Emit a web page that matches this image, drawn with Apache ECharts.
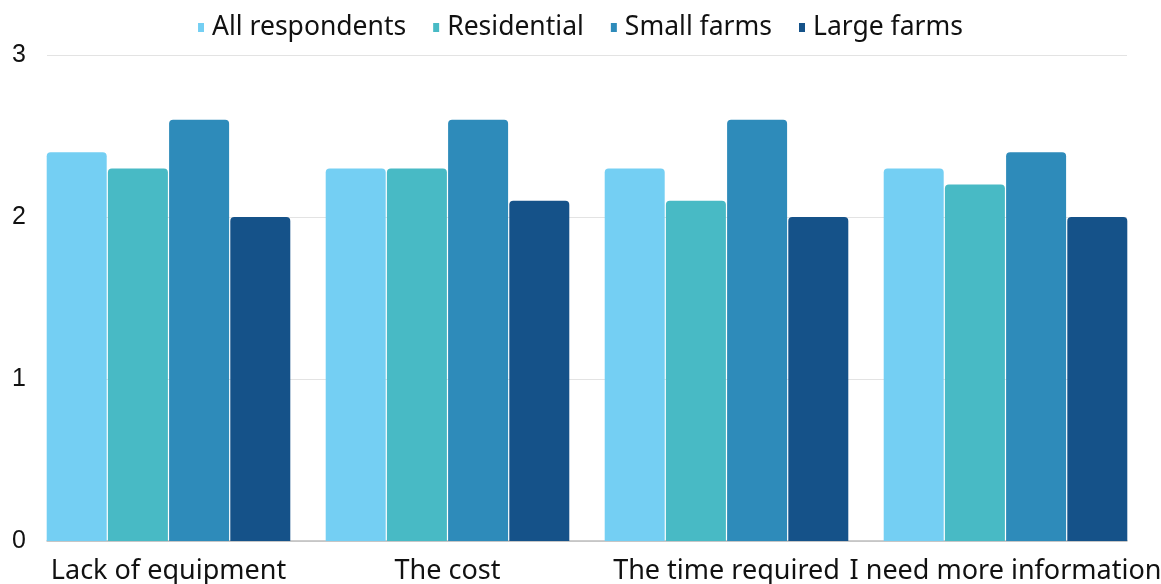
<!DOCTYPE html>
<html>
<head>
<meta charset="utf-8">
<script src="https://cdn.jsdelivr.net/npm/echarts@6/dist/echarts.min.js"></script>
<style>
  html, body { margin: 0; padding: 0; background: #ffffff; }
  #chart { width: 1161px; height: 584px; }
</style>
</head>
<body>
<div id="chart"></div>
<script>
// Barriers, average rating per respondent group
const categories = ['Lack of equipment', 'The cost', 'The time required', 'I need more information'];
const allRespondents = [2.4, 2.3, 2.3, 2.3];
const residential = [2.3, 2.3, 2.1, 2.2];
const smallFarms = [2.6, 2.6, 2.6, 2.4];
const largeFarms = [2.0, 2.1, 2.0, 2.0];
const yTicks = [0, 1, 2, 3];

const seriesDefs = [
  { name: 'All respondents', data: allRespondents, color: '#74CFF3' },
  { name: 'Residential', data: residential, color: '#48BAC5' },
  { name: 'Small farms', data: smallFarms, color: '#2E8BBA' },
  { name: 'Large farms', data: largeFarms, color: '#155289' }
];

const chart = echarts.init(document.getElementById('chart'), null, { renderer: 'canvas' });

const labelFont = 'Noto Sans, sans-serif';

chart.setOption({
  animation: false,
  legend: {
    top: 9,
    left: 'center',
    itemWidth: 6,
    itemHeight: 9,
    itemGap: 27,
    icon: 'rect',
    textStyle: { fontFamily: labelFont, fontSize: 26.5, color: '#111111', padding: [0, 0, 0, 3] },
    data: seriesDefs.map(s => s.name)
  },
  grid: [
    // bars: category band of 279px, group of four bars spans 243px
    { left: 29, right: 16, top: 55, bottom: 43, containLabel: false, outerBoundsMode: 'none' },
    // gridlines and value labels
    { left: 47, right: 34, top: 55, bottom: 43, containLabel: false, outerBoundsMode: 'none' }
  ],
  xAxis: [
    {
      gridIndex: 0,
      type: 'category',
      data: categories,
      axisLine: { show: false },
      axisTick: { show: false },
      axisLabel: { fontFamily: labelFont, fontSize: 27, color: '#111111', margin: 17, interval: 0 }
    },
    {
      gridIndex: 1,
      type: 'value',
      min: 0,
      max: 1,
      show: true,
      axisLine: { show: true, onZero: false, lineStyle: { color: '#bdbdbd', width: 1.5 } },
      axisTick: { show: false },
      axisLabel: { show: false },
      splitLine: { show: false }
    }
  ],
  yAxis: [
    {
      gridIndex: 0,
      type: 'value',
      min: 0,
      max: 3,
      interval: 1,
      show: false
    },
    {
      gridIndex: 1,
      type: 'value',
      min: 0,
      max: 3,
      interval: 1,
      axisLine: { show: false },
      axisTick: { show: false },
      axisLabel: {
        fontFamily: 'Liberation Sans, Arial, sans-serif',
        fontSize: 25,
        color: '#111111',
        margin: 21,
        formatter: v => String(yTicks[yTicks.indexOf(v)])
      },
      splitLine: { show: true, lineStyle: { color: '#e3e3e3', width: 1 } }
    }
  ],
  series: seriesDefs.map(s => ({
    name: s.name,
    type: 'bar',
    xAxisIndex: 0,
    yAxisIndex: 0,
    data: s.data,
    barWidth: 60,
    barGap: '2%',
    itemStyle: { color: s.color, borderRadius: [4, 4, 0, 0] },
    z: 3
  }))
});
</script>
</body>
</html>
